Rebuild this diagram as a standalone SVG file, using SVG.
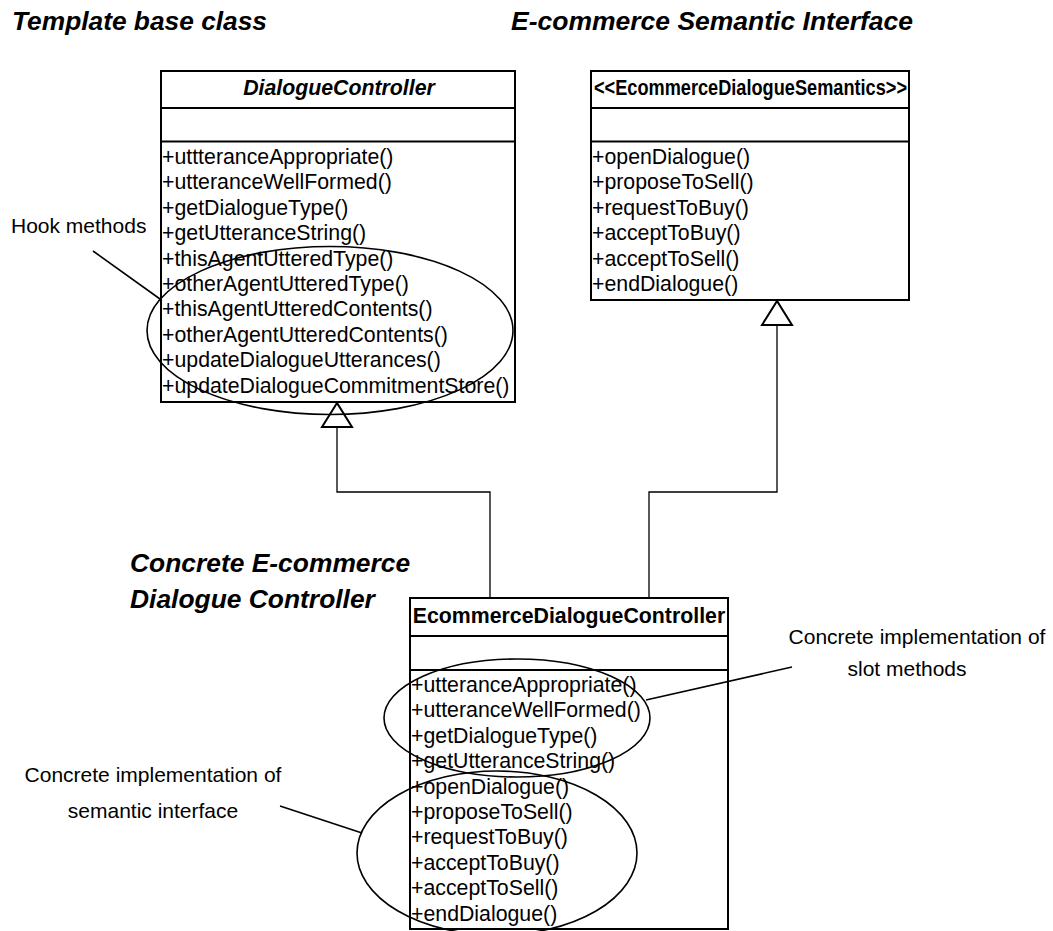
<svg xmlns="http://www.w3.org/2000/svg" width="1053" height="931" viewBox="0 0 1053 931">
  <style>
    text { font-family: "Liberation Sans", Arial, sans-serif; fill: #000; }
    .title { font-size: 26.4px; font-weight: bold; font-style: italic; }
    .cls { font-size: 21.3px; font-weight: bold; }
    .m { font-size: 21.3px; }
    .note { font-size: 21px; }
    .box { fill: #fff; stroke: #000; stroke-width: 2; }
    .sep { stroke: #000; stroke-width: 2; }
    .conn { fill: none; stroke: #000; stroke-width: 1.3; }
    .gen { fill: #fff; stroke: #000; stroke-width: 2; }
    .mark { fill: none; stroke: #000; stroke-width: 1.6; }
  </style>

  <!-- section headings -->
  <g id="headings">
    <text class="title" x="12" y="30" textLength="255" lengthAdjust="spacingAndGlyphs">Template base class</text>
    <text class="title" x="511" y="30" textLength="402" lengthAdjust="spacingAndGlyphs">E-commerce Semantic Interface</text>
    <text class="title" x="130" y="572">Concrete E-commerce</text>
    <text class="title" x="130" y="608">Dialogue Controller</text>
  </g>

  <!-- generalisation connectors -->
  <g id="connectors">
    <polyline class="conn" points="337,427 337,492 490,492 490,598"/>
    <polyline class="conn" points="777,325 777,492 649,492 649,598"/>
    <polygon class="gen" points="337,403 322,427 352,427"/>
    <polygon class="gen" points="777,301 762,325 792,325"/>
  </g>

  <!-- abstract template class -->
  <g id="DialogueController">
    <rect class="box" x="161" y="71" width="354" height="331"/>
    <line class="sep" x1="161" y1="108" x2="515" y2="108"/>
    <line class="sep" x1="161" y1="141.5" x2="515" y2="141.5"/>
    <text class="cls" x="339" y="95" text-anchor="middle" font-style="italic">DialogueController</text>
    <text class="m" x="162" y="164">+uttteranceAppropriate()</text>
    <text class="m" x="162" y="189.4">+utteranceWellFormed()</text>
    <text class="m" x="162" y="214.8">+getDialogueType()</text>
    <text class="m" x="162" y="240.2">+getUtteranceString()</text>
    <text class="m" x="162" y="265.6">+thisAgentUtteredType()</text>
    <text class="m" x="162" y="291">+otherAgentUtteredType()</text>
    <text class="m" x="162" y="316.4">+thisAgentUtteredContents()</text>
    <text class="m" x="162" y="341.8">+otherAgentUtteredContents()</text>
    <text class="m" x="162" y="367.2">+updateDialogueUtterances()</text>
    <text class="m" x="162" y="392.6">+updateDialogueCommitmentStore()</text>
  </g>

  <!-- semantic interface -->
  <g id="EcommerceDialogueSemantics">
    <rect class="box" x="591" y="71" width="318" height="229"/>
    <line class="sep" x1="591" y1="108" x2="909" y2="108"/>
    <line class="sep" x1="591" y1="141.5" x2="909" y2="141.5"/>
    <text class="cls" x="594" y="95" textLength="313" lengthAdjust="spacingAndGlyphs">&lt;&lt;EcommerceDialogueSemantics&gt;&gt;</text>
    <text class="m" x="592" y="164">+openDialogue()</text>
    <text class="m" x="592" y="189.4">+proposeToSell()</text>
    <text class="m" x="592" y="214.8">+requestToBuy()</text>
    <text class="m" x="592" y="240.2">+acceptToBuy()</text>
    <text class="m" x="592" y="265.6">+acceptToSell()</text>
    <text class="m" x="592" y="291">+endDialogue()</text>
  </g>

  <!-- concrete controller -->
  <g id="EcommerceDialogueController">
    <rect class="box" x="410" y="598" width="318" height="331"/>
    <line class="sep" x1="410" y1="636" x2="728" y2="636"/>
    <line class="sep" x1="410" y1="670" x2="728" y2="670"/>
    <text class="cls" x="569" y="623" text-anchor="middle">EcommerceDialogueController</text>
    <text class="m" x="411" y="692">+utteranceAppropriate()</text>
    <text class="m" x="411" y="717.4">+utteranceWellFormed()</text>
    <text class="m" x="411" y="742.8">+getDialogueType()</text>
    <text class="m" x="411" y="768.2">+getUtteranceString()</text>
    <text class="m" x="411" y="793.6">+openDialogue()</text>
    <text class="m" x="411" y="819">+proposeToSell()</text>
    <text class="m" x="411" y="844.4">+requestToBuy()</text>
    <text class="m" x="411" y="869.8">+acceptToBuy()</text>
    <text class="m" x="411" y="895.2">+acceptToSell()</text>
    <text class="m" x="411" y="920.6">+endDialogue()</text>
  </g>

  <!-- annotation: hook methods -->
  <g id="hook-note">
    <ellipse class="mark" cx="330" cy="330.5" rx="183" ry="84"/>
    <line class="mark" x1="93" y1="251" x2="160" y2="299"/>
    <text class="note" x="11" y="233">Hook methods</text>
  </g>

  <!-- annotation: slot methods -->
  <g id="slot-note">
    <ellipse class="mark" cx="517" cy="718" rx="133" ry="59"/>
    <line class="mark" x1="646" y1="700" x2="792" y2="667"/>
    <text class="note" x="917" y="644" text-anchor="middle">Concrete implementation of</text>
    <text class="note" x="907" y="676" text-anchor="middle">slot methods</text>
  </g>

  <!-- annotation: semantic interface -->
  <g id="semantic-note">
    <ellipse class="mark" cx="497" cy="853" rx="140" ry="82"/>
    <line class="mark" x1="280" y1="806" x2="362" y2="833"/>
    <text class="note" x="153" y="782" text-anchor="middle">Concrete implementation of</text>
    <text class="note" x="153" y="818" text-anchor="middle">semantic interface</text>
  </g>
</svg>
